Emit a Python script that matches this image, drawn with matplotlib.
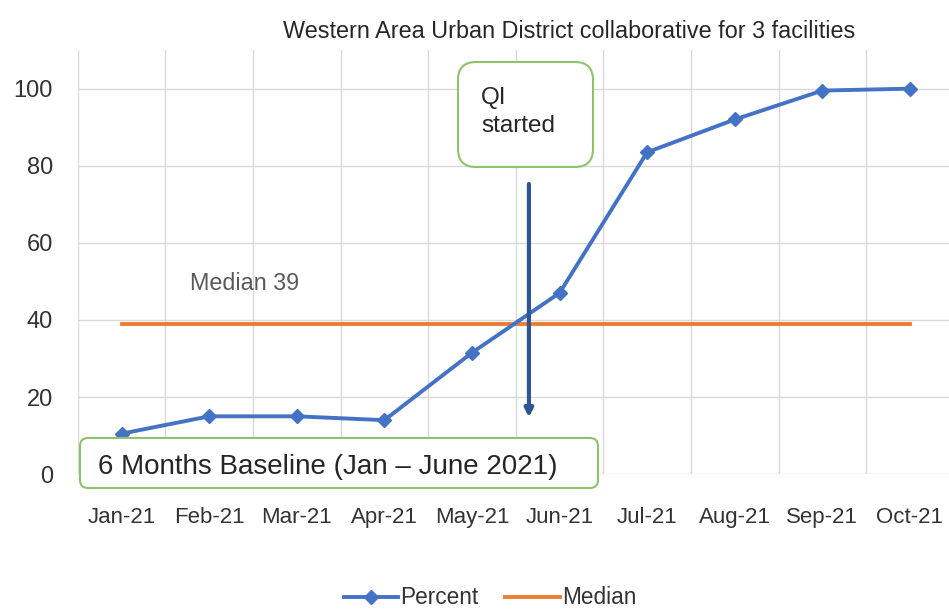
import matplotlib.pyplot as plt
from matplotlib.patches import FancyBboxPatch

plt.rcParams['font.family'] = ['Liberation Sans', 'DejaVu Sans']

months = ['Jan-21', 'Feb-21', 'Mar-21', 'Apr-21', 'May-21',
          'Jun-21', 'Jul-21', 'Aug-21', 'Sep-21', 'Oct-21']
percent = [10.5, 15, 15, 14, 31.5, 47, 83.5, 92, 99.5, 100]
median = [39] * len(months)
y_ticks = [0, 20, 40, 60, 80, 100]

blue = '#4472C4'
orange = '#ED7D31'
txt = '#333333'

fig = plt.figure(figsize=(9.49, 6.11), dpi=100)
ax = fig.add_axes([0.082, 0.224, 0.923, 0.694])

x = list(range(len(months)))
ax.plot(x, percent, color=blue, lw=2.8, marker='D', ms=7, label='Percent', zorder=3)
ax.plot(x, median, color=orange, lw=2.8, label='Median', zorder=2)

ax.set_xlim(-0.5, 9.5)
ax.set_ylim(0, 110)
ax.set_yticks(y_ticks)
ax.set_xticks(x)
ax.set_xticklabels(months)
ax.set_xticks([i - 0.5 for i in range(len(months) + 1)], minor=True)
ax.grid(True, axis='x', which='minor', color='#D9D9D9', lw=1)
ax.grid(True, axis='y', which='major', color='#D9D9D9', lw=1)
ax.tick_params(which='both', length=0)
ax.tick_params(axis='y', labelsize=17, labelcolor=txt, pad=18)
ax.tick_params(axis='x', labelsize=16, labelcolor=txt, pad=24)
for s in ax.spines.values():
    s.set_visible(False)

fig.text(0.60, 1 - 31 / 611, 'Western Area Urban District collaborative for 3 facilities',
         ha='center', va='center', fontsize=16.8, color='#262626')

# QI start marker
ax.annotate('', xy=(4.65, 14), xytext=(4.65, 76),
            arrowprops=dict(arrowstyle='-|>', color='#2F5597', lw=3,
                            mutation_scale=12), zorder=4)

ax.text(0.78, 49.5, 'Median 39', fontsize=16.8, color='#595959', va='center')

qi_box = FancyBboxPatch((458, 444), 135, 105, transform=None,
                        boxstyle='round,pad=0,rounding_size=18',
                        fc='white', ec='#8DC36B', lw=1.5, zorder=5)
fig.patches.append(qi_box)
fig.text(481 / 949, 1 - 112 / 611, 'QI\nstarted', fontsize=17.5, color='#262626',
         va='center', ha='left', linespacing=1.35, zorder=6)

base_box = FancyBboxPatch((80, 123), 518, 50, transform=None,
                          boxstyle='round,pad=0,rounding_size=8',
                          fc='white', ec='#8DC36B', lw=1.5, zorder=5)
fig.patches.append(base_box)
fig.text(98 / 949, 1 - 467 / 611, '6 Months Baseline (Jan \u2013 June 2021)',
         fontsize=20, color='#262626', va='center', ha='left', zorder=6)

fig.legend(loc='center', bbox_to_anchor=(490 / 949, 1 - 598 / 611), ncol=2,
           frameon=False, fontsize=16.3, handlelength=2.4, columnspacing=1.2,
           handletextpad=0.1, labelcolor=txt)

fig.savefig('out.png', dpi=100)
